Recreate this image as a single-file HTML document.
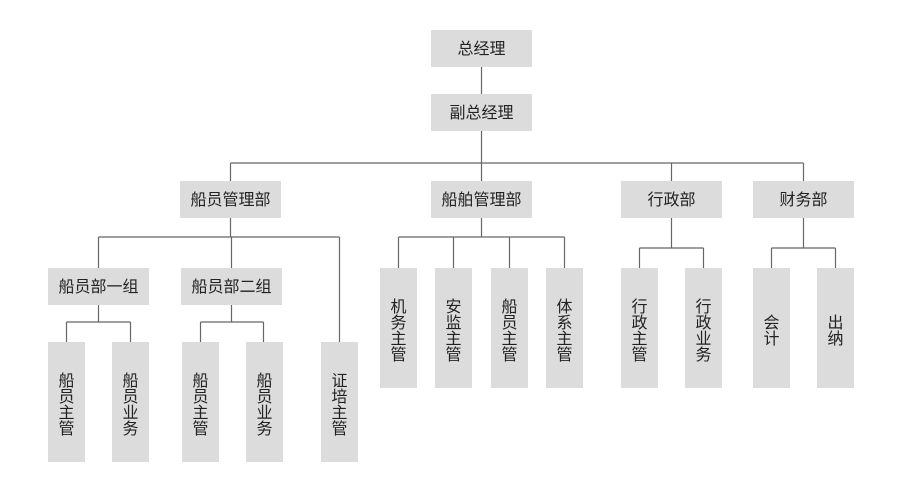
<!DOCTYPE html>
<html><head><meta charset="utf-8"><style>
html,body{margin:0;padding:0;background:#fff;width:900px;height:479px;overflow:hidden}
svg text{font-family:"Liberation Sans","Noto Sans CJK SC",sans-serif;font-size:16px;fill:#222}
</style></head><body>
<svg width="900" height="479" viewBox="0 0 900 479" xmlns="http://www.w3.org/2000/svg">
<g stroke="#666" stroke-width="1.2" fill="none">
<path d="M481.5 67V94M481.5 131V163M230.5 163H803.5M230.5 163V181M481.5 163V181M671.5 163V181M803.5 163V181"/>
<path d="M230.5 218V237M98.5 237H339.5M98.5 237V268M231.5 237V268M339.5 237V342"/>
<path d="M98.5 305V322M66.5 322H130.5M66.5 322V342M130.5 322V342"/>
<path d="M231.5 305V322M200.5 322H263.5M200.5 322V342M263.5 322V342"/>
<path d="M481.5 218V237M398.5 237H564.5M398.5 237V268M453.5 237V268M509.5 237V268M564.5 237V268"/>
<path d="M671.5 218V248M639.5 248H703.5M639.5 248V268M703.5 248V268"/>
<path d="M803.5 218V248M771.5 248H835.5M771.5 248V268M835.5 248V268"/>
</g>
<g fill="#dcdcdc">
<rect x="431" y="30" width="101" height="37"/>
<rect x="431" y="94" width="101" height="37"/>
<rect x="180" y="181" width="101" height="37"/>
<rect x="431" y="181" width="101" height="37"/>
<rect x="621" y="181" width="101" height="37"/>
<rect x="753" y="181" width="101" height="37"/>
<rect x="48" y="268" width="101" height="37"/>
<rect x="181" y="268" width="101" height="37"/>
<rect x="48" y="342" width="37" height="120"/>
<rect x="112" y="342" width="37" height="120"/>
<rect x="182" y="342" width="37" height="120"/>
<rect x="246" y="342" width="37" height="120"/>
<rect x="321" y="342" width="37" height="120"/>
<rect x="380" y="268" width="37" height="120"/>
<rect x="435" y="268" width="37" height="120"/>
<rect x="491" y="268" width="37" height="120"/>
<rect x="546" y="268" width="37" height="120"/>
<rect x="621" y="268" width="37" height="120"/>
<rect x="685" y="268" width="37" height="120"/>
<rect x="753" y="268" width="37" height="120"/>
<rect x="817" y="268" width="37" height="120"/>
</g>
<g text-anchor="middle">
<text x="481.5" y="54">总经理</text>
<text x="481.5" y="118">副总经理</text>
<text x="230.5" y="205">船员管理部</text>
<text x="481.5" y="205">船舶管理部</text>
<text x="671.5" y="205">行政部</text>
<text x="803.5" y="205">财务部</text>
<text x="98.5" y="292">船员部一组</text>
<text x="231.5" y="292">船员部二组</text>
</g>
<g text-anchor="middle">
<text x="66.5" y="386">船</text><text x="66.5" y="402">员</text><text x="66.5" y="418">主</text><text x="66.5" y="434">管</text>
<text x="130.5" y="386">船</text><text x="130.5" y="402">员</text><text x="130.5" y="418">业</text><text x="130.5" y="434">务</text>
<text x="200.5" y="386">船</text><text x="200.5" y="402">员</text><text x="200.5" y="418">主</text><text x="200.5" y="434">管</text>
<text x="264.5" y="386">船</text><text x="264.5" y="402">员</text><text x="264.5" y="418">业</text><text x="264.5" y="434">务</text>
<text x="339.5" y="386">证</text><text x="339.5" y="402">培</text><text x="339.5" y="418">主</text><text x="339.5" y="434">管</text>
<text x="398.5" y="312">机</text><text x="398.5" y="328">务</text><text x="398.5" y="344">主</text><text x="398.5" y="360">管</text>
<text x="453.5" y="312">安</text><text x="453.5" y="328">监</text><text x="453.5" y="344">主</text><text x="453.5" y="360">管</text>
<text x="509.5" y="312">船</text><text x="509.5" y="328">员</text><text x="509.5" y="344">主</text><text x="509.5" y="360">管</text>
<text x="564.5" y="312">体</text><text x="564.5" y="328">系</text><text x="564.5" y="344">主</text><text x="564.5" y="360">管</text>
<text x="639.5" y="312">行</text><text x="639.5" y="328">政</text><text x="639.5" y="344">主</text><text x="639.5" y="360">管</text>
<text x="703.5" y="312">行</text><text x="703.5" y="328">政</text><text x="703.5" y="344">业</text><text x="703.5" y="360">务</text>
<text x="771.5" y="328">会</text><text x="771.5" y="344">计</text>
<text x="835.5" y="328">出</text><text x="835.5" y="344">纳</text>
</g>
</svg>
</body></html>
